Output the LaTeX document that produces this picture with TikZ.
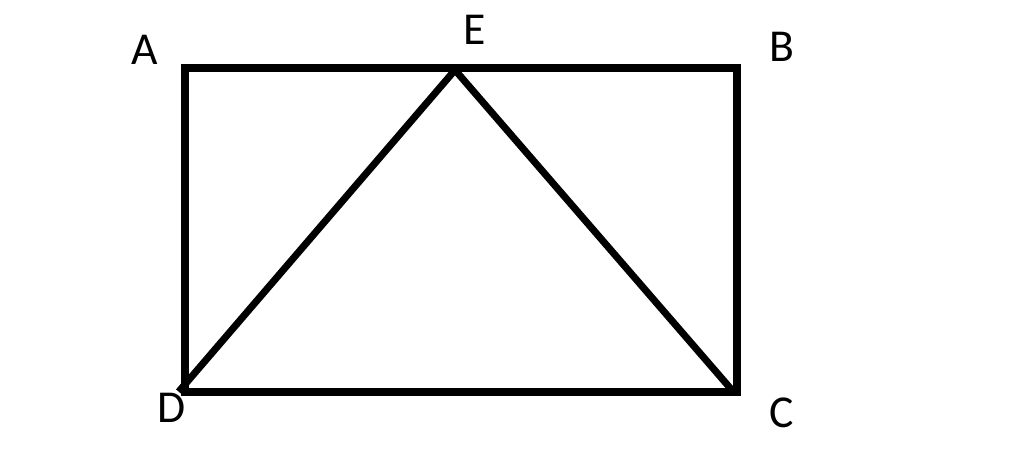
\documentclass[tikz,border=0pt]{standalone}
\usepackage{fontspec}
\setmainfont{Carlito}

\begin{document}
\begin{tikzpicture}[line cap=rect, line join=miter]
	
	% ----------------------------
	% 0) Canvas box
	% ----------------------------
	\useasboundingbox (0,0) rectangle (10.24,-4.70);
	\tikzset{edge/.style={line width=2pt},
		lbl/.style={font=\fontsize{13}{15}\selectfont}}
	
	% ----------------------------
	% 1) Corners
	% ----------------------------
	\coordinate (A) at (1.85,-0.68);
	\coordinate (B) at (7.37,-0.68);
	\coordinate (C) at (7.37,-3.92);
	\coordinate (D) at (1.85,-3.92);
	\coordinate (E) at (4.55,-0.70);
	\coordinate (Dt) at (1.81,-3.89);
	\coordinate (Ct) at (7.31,-3.89);
	
	% ----------------------------
	% 2) Rectangle and triangle
	% ----------------------------
	\draw[edge] (A) -- (B) -- (C) -- (D) -- cycle;
	\draw[edge] (Dt) -- (E) -- (Ct);
	
	% ----------------------------
	% 3) Labels
	% ----------------------------
	\node[lbl] (lA) at (1.45,-0.50) {A};
	\node[lbl] (lB) at (7.82,-0.47) {B};
	\node[lbl] (lC) at (7.82,-4.13) {C};
	\node[lbl] (lD) at (1.72,-4.08) {D};
	\node[lbl] (lE) at (4.75,-0.30) {E};
	
\end{tikzpicture}
\end{document}
